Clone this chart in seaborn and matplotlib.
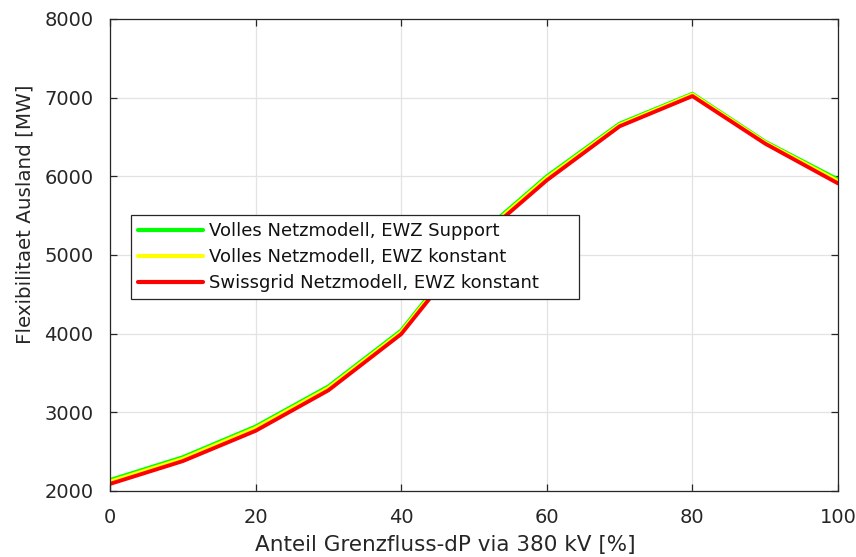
import matplotlib
matplotlib.use("Agg")
import matplotlib.pyplot as plt
import seaborn as sns
import pandas as pd
import numpy as np

# Share of cross-border flow via 380 kV [%]
anteil = [0, 10, 20, 30, 40, 50, 60, 70, 80, 90, 100]

# Flexibility abroad [MW] per model variant
voll_support = [2140, 2430, 2820, 3330, 4040, 5200, 6000, 6670, 7050, 6440, 5960]
voll_konstant = [2120, 2410, 2800, 3310, 4020, 5180, 5980, 6655, 7040, 6430, 5940]
swissgrid_konstant = [2090, 2380, 2765, 3280, 3995, 5150, 5950, 6636, 7020, 6415, 5910]

serien = ["Volles Netzmodell, EWZ Support",
          "Volles Netzmodell, EWZ konstant",
          "Swissgrid Netzmodell, EWZ konstant"]
farben = ["#00ff00", "#ffff00", "#ff0000"]

df = pd.concat([
    pd.DataFrame({"x": anteil, "y": werte, "Modell": name})
    for name, werte in zip(serien, [voll_support, voll_konstant, swissgrid_konstant])
], ignore_index=True)

sns.set_theme(style="white")
plt.rcParams["font.family"] = ["DejaVu Sans"]
text_col = "#262626"

fig = plt.figure(figsize=(8.56, 5.57), dpi=100)
ax = fig.add_axes([0.1285, 0.1185, 0.8505, 0.8474])

sns.lineplot(data=df, x="x", y="y", hue="Modell", hue_order=serien,
             palette=farben, linewidth=2.8, ax=ax, legend=True)

ax.set_xlim(0, 100)
ax.set_ylim(2000, 8000)
ax.set_xticks(np.arange(0, 101, 20))
ax.set_yticks(np.arange(2000, 8001, 1000))
ax.grid(True, color="#e3e3e3", linewidth=0.9)
ax.set_axisbelow(True)

for sp in ax.spines.values():
    sp.set_visible(True)
    sp.set_color(text_col)
    sp.set_linewidth(0.9)

ax.tick_params(axis="both", which="both", direction="in", length=5,
               width=0.9, color=text_col, labelsize=14, labelcolor=text_col,
               top=True, right=True, bottom=True, left=True,
               labeltop=False, labelright=False)
ax.tick_params(axis="x", pad=12)
ax.tick_params(axis="y", pad=12)

ax.set_xlabel("Anteil Grenzfluss-dP via 380 kV [%]", fontsize=15.5,
              color=text_col)
ax.xaxis.set_label_coords(0.460, -0.094)
ax.set_ylabel("Flexibilitaet Ausland [MW]", fontsize=14.3,
              color=text_col)
ax.yaxis.set_label_coords(-0.104, 0.587)

leg = ax.legend(loc="upper left", bbox_to_anchor=(0.0288, 0.5847, 0.6154, 0.0),
                mode="expand", fontsize=13, frameon=True, fancybox=False,
                framealpha=1, edgecolor=text_col, handlelength=3.6,
                handletextpad=0.3, borderpad=0.41, labelspacing=0.43,
                borderaxespad=0)
leg.get_frame().set_linewidth(0.9)
for t in leg.get_texts():
    t.set_color("#111111")
for line in leg.get_lines():
    line.set_linewidth(3)

fig.savefig("out.png", dpi=100)
